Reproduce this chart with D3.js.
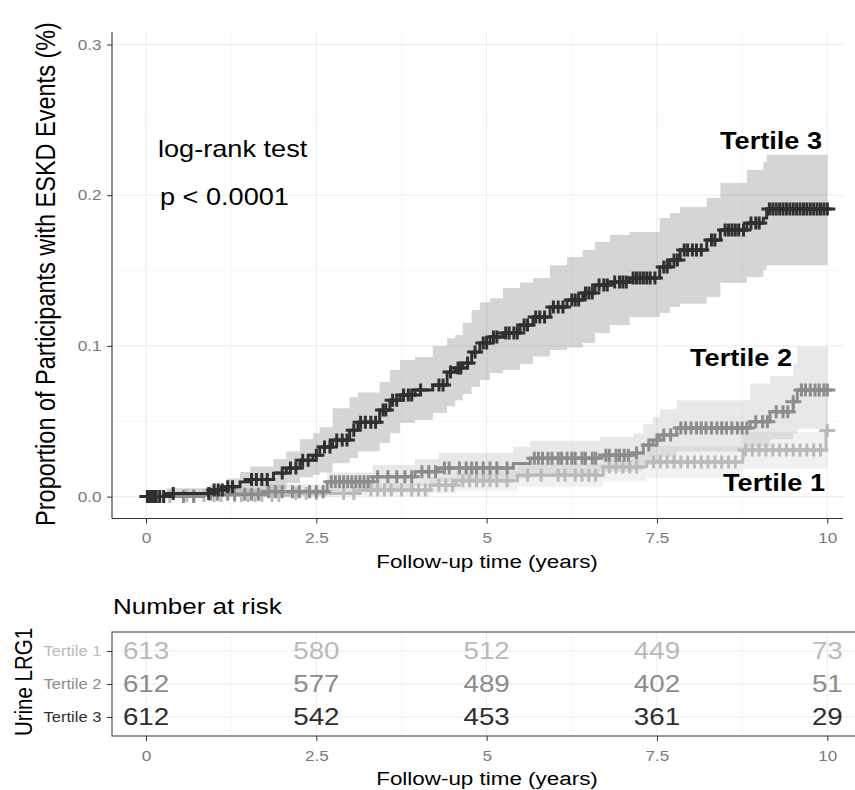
<!DOCTYPE html>
<meta charset="utf-8">
<script src="https://cdn.jsdelivr.net/npm/d3@7"></script>
<style>
body { margin: 0; background: #fff; }
svg text { font-family: "Liberation Sans", Arial, Helvetica, sans-serif; }
.grid-major { stroke: #ebebeb; stroke-width: 1; }
.grid-minor { stroke: #f3f3f3; stroke-width: 0.6; }
.axis line { stroke: #333; }
.axis path { display: none; }
</style>
<body>
<div id="chart"></div>
<script>
//----------------------------- DATA -----------------------------//
const groups = ["Tertile 1", "Tertile 2", "Tertile 3"];
const groupColors = ["#bababa", "#8c8c8c", "#2f2f2f"];

// Tertile 1: step times, cumulative event proportion, CI bounds
const t1Time  = [0, 0.45, 2.11, 3.10, 4.17, 4.55, 5.45, 6.71, 7.35, 8.76, 9.98, 10.0];
const t1Est   = [0, 0.0008, 0.0021, 0.0043, 0.0076, 0.0105, 0.0142, 0.0197, 0.0230, 0.0309, 0.0438, 0.0438];
const t1Lower = [0, 0, 0, 0.0005, 0.0020, 0.0040, 0.0065, 0.0100, 0.0125, 0.0185, 0.0200, 0.0200];
const t1Upper = [0, 0.0025, 0.0050, 0.0085, 0.0130, 0.0170, 0.0220, 0.0290, 0.0335, 0.0430, 0.0660, 0.0660];
const t1Censor = [0.15, 0.25, 0.35, 0.6, 0.7, 0.85, 1.0, 1.1, 1.3, 1.4, 1.5, 1.6, 1.7, 1.85, 1.95, 2.2, 2.35, 2.5,
  2.9, 3.05, 3.3, 3.4, 3.5, 3.6, 3.75, 3.9, 4.0, 4.1, 4.3, 4.4, 4.5, 4.65, 4.75, 4.85, 4.95, 5.05, 5.15, 5.3,
  5.6, 5.8, 6.05, 6.15, 6.3, 6.4, 6.5, 6.6, 6.8, 6.9, 7.0, 7.1, 7.2, 7.45, 7.55, 7.65, 7.75, 7.85, 7.95, 8.05,
  8.15, 8.25, 8.35, 8.45, 8.55, 8.65, 8.8, 8.9, 9.0, 9.1, 9.2, 9.3, 9.4, 9.5, 9.6, 9.7, 9.8, 9.9, 10.0];

// Tertile 2
const t2Time  = [0, 0.85, 1.75, 2.66, 3.33, 3.95, 4.30, 5.39, 5.64, 6.66, 7.15, 7.30, 7.44, 7.54, 7.79, 8.87, 9.16, 9.50, 9.56, 10.0];
const t2Est   = [0, 0.0016, 0.0033, 0.0098, 0.0131, 0.0165, 0.0190, 0.0220, 0.0254, 0.0275, 0.0289, 0.0342, 0.0375, 0.0408, 0.0455, 0.0496, 0.0563, 0.0629, 0.0707, 0.0707];
const t2Lower = [0, 0, 0.0002, 0.0030, 0.0050, 0.0070, 0.0095, 0.0120, 0.0150, 0.0165, 0.0175, 0.0210, 0.0240, 0.0265, 0.0300, 0.0330, 0.0380, 0.0420, 0.0450, 0.0450];
const t2Upper = [0, 0.0050, 0.0080, 0.0160, 0.0210, 0.0250, 0.0290, 0.0330, 0.0370, 0.0395, 0.0420, 0.0480, 0.0530, 0.0580, 0.0640, 0.0750, 0.0800, 0.0880, 0.0994, 0.0994];
const t2Censor = [0.55, 0.7, 0.95, 1.05, 1.2, 1.3, 1.45, 1.55, 1.65, 1.8, 1.9, 2.0, 2.15, 2.25, 2.4, 2.5, 2.6,
  2.72, 2.78, 2.84, 2.9, 2.96, 3.02, 3.08, 3.14, 3.2, 3.26, 3.4, 3.55, 3.68, 3.8, 3.9, 4.05, 4.15, 4.25, 4.38,
  4.45, 4.6, 4.7, 4.78, 4.85, 4.95, 5.05, 5.15, 5.3, 5.7, 5.76, 5.82, 5.9, 5.96, 6.05, 6.1, 6.18, 6.25, 6.3,
  6.4, 6.45, 6.55, 6.6, 6.75, 6.8, 6.9, 6.95, 7.02, 7.08, 7.2, 7.38, 7.5, 7.6, 7.7, 7.85, 7.92, 8.0, 8.08,
  8.15, 8.22, 8.3, 8.38, 8.45, 8.52, 8.6, 8.68, 8.75, 8.82, 8.95, 9.05, 9.12, 9.25, 9.35, 9.42, 9.5, 9.62,
  9.68, 9.75, 9.82, 9.88, 9.95, 10.0];

// Tertile 3
const t3Time  = [0, 0.30, 0.94, 1.18, 1.38, 1.53, 1.87, 2.06, 2.26, 2.45, 2.55, 2.74, 2.99, 3.11, 3.43, 3.58, 3.73, 3.95,
  4.21, 4.42, 4.54, 4.65, 4.78, 4.90, 5.05, 5.24, 5.49, 5.68, 5.93, 6.18, 6.41, 6.59, 6.81, 7.10, 7.54, 7.69,
  7.84, 8.23, 8.43, 8.82, 9.06, 9.11, 10.0];
const t3Est   = [0, 0.0021, 0.0043, 0.0065, 0.0098, 0.0114, 0.0156, 0.0189, 0.0242, 0.0275, 0.0329, 0.0375, 0.0441, 0.0494,
  0.0574, 0.0640, 0.0674, 0.0707, 0.0740, 0.0826, 0.0853, 0.0886, 0.0959, 0.1019, 0.1059, 0.1085, 0.1138, 0.1191,
  0.1258, 0.1304, 0.1351, 0.1404, 0.1424, 0.1450, 0.1523, 0.1570, 0.1636, 0.1702, 0.1769, 0.1815, 0.1848, 0.1908, 0.1908];
const t3Lower = [0, 0, 0.0005, 0.0010, 0.0020, 0.0030, 0.0050, 0.0090, 0.0129, 0.0143, 0.0160, 0.0222, 0.0256, 0.0300,
  0.0355, 0.0421, 0.0488, 0.0508, 0.0554, 0.0600, 0.0640, 0.0680, 0.0727, 0.0773, 0.0820, 0.0840, 0.0880, 0.0930,
  0.0972, 0.0990, 0.1019, 0.1085, 0.1138, 0.1191, 0.1218, 0.1258, 0.1280, 0.1324, 0.1417, 0.1457, 0.1503, 0.1536, 0.1536];
const t3Upper = [0, 0.0056, 0.0076, 0.0120, 0.0163, 0.0200, 0.0250, 0.0300, 0.0380, 0.0420, 0.0461, 0.0587, 0.0660, 0.0690,
  0.0760, 0.0840, 0.0906, 0.0926, 0.1000, 0.1050, 0.1072, 0.1152, 0.1238, 0.1290, 0.1317, 0.1384, 0.1420, 0.1450,
  0.1536, 0.1590, 0.1636, 0.1689, 0.1736, 0.1755, 0.1848, 0.1882, 0.1922, 0.1981, 0.2081, 0.2167, 0.2220, 0.2267, 0.2267];
const t3Censor = [0.02, 0.05, 0.08, 0.11, 0.15, 0.2, 0.26, 0.4, 0.92, 1.0, 1.06, 1.12, 1.2, 1.27, 1.55, 1.62, 1.7, 1.78,
  2.0, 2.12, 2.2, 2.3, 2.38, 2.5, 2.62, 2.7, 2.8, 2.88, 2.95, 3.05, 3.15, 3.22, 3.3, 3.37, 3.48, 3.52, 3.62, 3.68,
  3.78, 3.85, 3.9, 4.03, 4.3, 4.36, 4.47, 4.58, 4.62, 4.72, 4.83, 4.95, 5.0, 5.1, 5.15, 5.28, 5.33, 5.4, 5.45,
  5.55, 5.6, 5.72, 5.78, 5.85, 5.98, 6.05, 6.12, 6.25, 6.3, 6.35, 6.45, 6.5, 6.55, 6.65, 6.72, 6.77, 6.88, 6.95,
  7.0, 7.05, 7.15, 7.2, 7.25, 7.3, 7.35, 7.4, 7.47, 7.6, 7.65, 7.75, 7.8, 7.9, 7.95, 8.02, 8.08, 8.15, 8.3, 8.35,
  8.5, 8.55, 8.6, 8.65, 8.7, 8.77, 8.88, 8.95, 9.0, 9.15, 9.2, 9.25, 9.3, 9.35, 9.4, 9.45, 9.5, 9.55, 9.6, 9.65,
  9.7, 9.75, 9.8, 9.85, 9.9, 9.95, 10.0];

// Number at risk table
const riskTimes = [0, 2.5, 5, 7.5, 10];
const riskT1 = [613, 580, 512, 449, 73];
const riskT2 = [612, 577, 489, 402, 51];
const riskT3 = [612, 542, 453, 361, 29];

const xTicks = [0, 2.5, 5, 7.5, 10];
const xMinor = [1.25, 3.75, 6.25, 8.75];
const yTicks = [0, 0.1, 0.2, 0.3];
const yMinor = [0.05, 0.15, 0.25];

//----------------------------- SETUP -----------------------------//
const W = 855, H = 790;
const SX = 1.18;   // the reference text is slightly wide
const main = {left: 112, right: 843, top: 32, bottom: 518.5};
const tab = {left: 112, right: 860, top: 632, bottom: 736};

const svg = d3.select("#chart").append("svg")
  .attr("width", W).attr("height", H);

const x = d3.scaleLinear().domain([0, 10]).range([146, 827.3]);
const y = d3.scaleLinear().domain([0, 0.3]).range([496.6, 44.5]);
const yRisk = d3.scalePoint().domain(groups).range([651, 717]);

function label(g, px, py, str, size, fill, anchor, weight) {
  return g.append("text")
    .attr("transform", "translate(" + px + "," + py + ") scale(" + SX + ",1)")
    .attr("text-anchor", anchor || "start")
    .style("font-size", size + "px")
    .style("font-weight", weight || "normal")
    .style("fill", fill)
    .text(str);
}

const series = [
  {time: t1Time, est: t1Est, lo: t1Lower, hi: t1Upper, cens: t1Censor},
  {time: t2Time, est: t2Est, lo: t2Lower, hi: t2Upper, cens: t2Censor},
  {time: t3Time, est: t3Est, lo: t3Lower, hi: t3Upper, cens: t3Censor}
];

function stepAt(s, t) {
  const i = Math.max(0, d3.bisectRight(s.time, t) - 1);
  return s.est[i];
}

//----------------------------- MAIN PANEL -----------------------------//
const gMain = svg.append("g");

gMain.selectAll(".vminor").data(xMinor).enter().append("line")
  .attr("class", "grid-minor")
  .attr("x1", d => x(d)).attr("x2", d => x(d))
  .attr("y1", main.top).attr("y2", main.bottom);
gMain.selectAll(".hminor").data(yMinor).enter().append("line")
  .attr("class", "grid-minor")
  .attr("x1", main.left).attr("x2", main.right)
  .attr("y1", d => y(d)).attr("y2", d => y(d));
gMain.selectAll(".vmajor").data(xTicks).enter().append("line")
  .attr("class", "grid-major")
  .attr("x1", d => x(d)).attr("x2", d => x(d))
  .attr("y1", main.top).attr("y2", main.bottom);
gMain.selectAll(".hmajor").data(yTicks).enter().append("line")
  .attr("class", "grid-major")
  .attr("x1", main.left).attr("x2", main.right)
  .attr("y1", d => y(d)).attr("y2", d => y(d));

// confidence ribbons
const band = d3.area()
  .curve(d3.curveStepAfter)
  .x(d => x(d.t))
  .y0(d => y(d.lo))
  .y1(d => y(d.hi));

series.forEach(function(s, k) {
  const pts = s.time.map((t, i) => ({t: t, lo: s.lo[i], hi: s.hi[i]}));
  gMain.append("path")
    .attr("d", band(pts))
    .style("fill", groupColors[k])
    .style("fill-opacity", 0.2);
});

// curves + censor marks
const line = d3.line()
  .curve(d3.curveStepAfter)
  .x(d => x(d.t))
  .y(d => y(d.v));

series.forEach(function(s, k) {
  const pts = s.time.map((t, i) => ({t: t, v: s.est[i]}));
  gMain.append("path")
    .attr("d", line(pts))
    .style("fill", "none")
    .style("stroke", groupColors[k])
    .style("stroke-width", 2.9);

  gMain.selectAll(".cens" + k).data(s.cens).enter().append("path")
    .attr("transform", d => "translate(" + x(d) + "," + y(stepAt(s, d)) + ")")
    .attr("d", "M-8,0H8M0,-6.5V6.5")
    .style("stroke", groupColors[k])
    .style("stroke-width", 3)
    .style("fill", "none");
});

// axes
gMain.append("g")
  .attr("class", "axis")
  .attr("transform", "translate(" + main.left + ",0)")
  .call(d3.axisLeft(y).tickValues(yTicks).tickFormat(d3.format(".1f")).tickSize(5).tickPadding(4))
  .call(g => g.selectAll("text")
    .attr("transform", "scale(" + SX + ",1)")
    .style("font-size", "14.5px").style("fill", "#7a7a7a"));

gMain.append("g")
  .attr("class", "axis")
  .attr("transform", "translate(0," + main.bottom + ")")
  .call(d3.axisBottom(x).tickValues(xTicks).tickFormat(d => String(d)).tickSize(5).tickPadding(9))
  .call(g => g.selectAll("text")
    .attr("transform", "scale(" + SX + ",1)")
    .style("font-size", "14.5px").style("fill", "#7a7a7a"));

gMain.append("line")
  .attr("x1", main.left).attr("x2", main.left)
  .attr("y1", main.top).attr("y2", main.bottom)
  .style("stroke", "#333").style("stroke-width", 1.1);
gMain.append("line")
  .attr("x1", main.left).attr("x2", main.right)
  .attr("y1", main.bottom).attr("y2", main.bottom)
  .style("stroke", "#333").style("stroke-width", 1.1);

// titles
gMain.append("text")
  .attr("transform", "translate(55,274) rotate(-90) scale(1," + SX + ")")
  .attr("text-anchor", "middle")
  .style("font-size", "23.5px")
  .style("fill", "#000")
  .text("Proportion of Participants with ESKD Events (%)");

label(gMain, 487, 568, "Follow-up time (years)", 19, "#000", "middle");

// annotations
label(gMain, 158, 157, "log-rank test", 23, "#000");
label(gMain, 160, 205, "p < 0.0001", 23, "#000");
label(gMain, 822, 149, "Tertile 3", 23, "#000", "end", "bold");
label(gMain, 792, 366, "Tertile 2", 23, "#000", "end", "bold");
label(gMain, 825, 491, "Tertile 1", 23, "#000", "end", "bold");

//----------------------------- RISK TABLE -----------------------------//
const gTab = svg.append("g");

label(gTab, 113, 614, "Number at risk", 22, "#000");

gTab.selectAll(".tminor").data(xMinor).enter().append("line")
  .attr("class", "grid-minor")
  .attr("x1", d => x(d)).attr("x2", d => x(d))
  .attr("y1", tab.top).attr("y2", tab.bottom);
gTab.selectAll(".tmajor").data(xTicks).enter().append("line")
  .attr("class", "grid-major")
  .attr("x1", d => x(d)).attr("x2", d => x(d))
  .attr("y1", tab.top).attr("y2", tab.bottom);
gTab.selectAll(".trow").data(groups).enter().append("line")
  .attr("class", "grid-major")
  .attr("x1", tab.left).attr("x2", tab.right)
  .attr("y1", d => yRisk(d)).attr("y2", d => yRisk(d));

const riskRows = [riskT1, riskT2, riskT3];
riskRows.forEach(function(row, k) {
  row.forEach(function(n, i) {
    gTab.append("text")
      .attr("transform", "translate(" + x(riskTimes[i]) + "," + yRisk(groups[k]) + ") scale(" + SX + ",1)")
      .attr("text-anchor", "middle")
      .attr("dy", "0.36em")
      .style("font-size", "23.5px")
      .style("fill", groupColors[k])
      .text(n);
  });
});

gTab.append("rect")
  .attr("x", tab.left).attr("y", tab.top)
  .attr("width", tab.right - tab.left).attr("height", tab.bottom - tab.top)
  .style("fill", "none").style("stroke", "#444").style("stroke-width", 1.1);

gTab.append("g")
  .attr("class", "axis")
  .attr("transform", "translate(" + tab.left + ",0)")
  .call(d3.axisLeft(yRisk).tickSize(5).tickPadding(4))
  .call(g => g.selectAll("text")
    .attr("transform", "scale(" + SX + ",1)")
    .style("font-size", "14px")
    .style("fill", (d, i) => groupColors[i]));

gTab.append("g")
  .attr("class", "axis")
  .attr("transform", "translate(0," + tab.bottom + ")")
  .call(d3.axisBottom(x).tickValues(xTicks).tickFormat(d => String(d)).tickSize(5).tickPadding(10))
  .call(g => g.selectAll("text")
    .attr("transform", "scale(" + SX + ",1)")
    .style("font-size", "14.5px").style("fill", "#7a7a7a"));

gTab.append("text")
  .attr("transform", "translate(32,682) rotate(-90) scale(1," + SX + ")")
  .attr("text-anchor", "middle")
  .style("font-size", "20.5px")
  .style("fill", "#000")
  .text("Urine LRG1");

label(gTab, 487, 785, "Follow-up time (years)", 19, "#000", "middle");
</script>
</body>
